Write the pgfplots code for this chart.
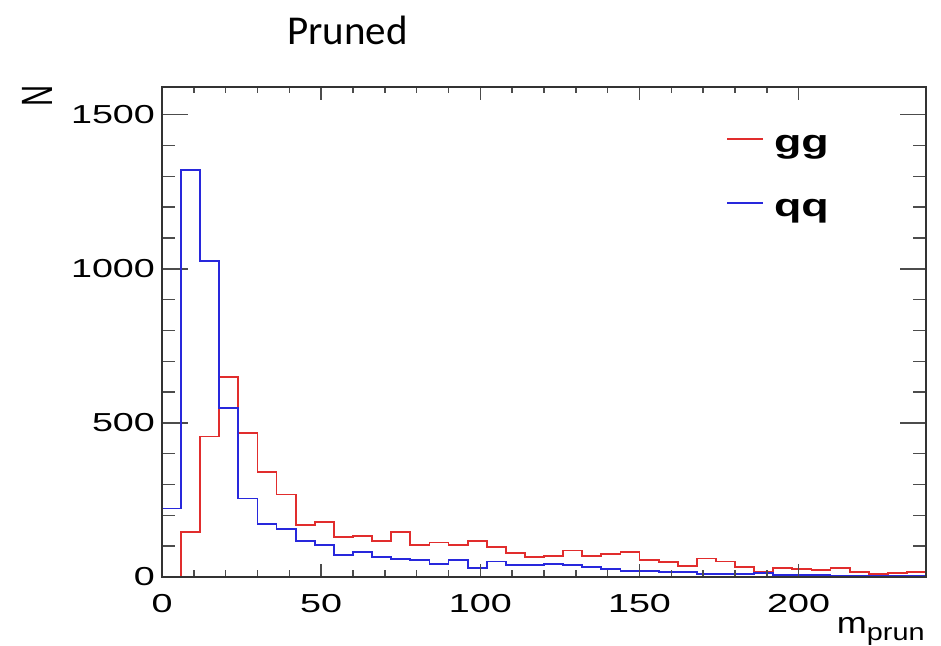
\documentclass[border=0pt]{standalone}
\usepackage{pgfplots}
\pgfplotsset{compat=1.18}
\usepackage{pgfplotstable}
\usepackage{fontspec}
\setmainfont{Liberation Sans}
\newfontfamily\carlito{Carlito}
\definecolor{hred}{RGB}{225,45,45}
\definecolor{hblue}{RGB}{40,40,220}

\pgfplotstableread{
x gg qq
0 0 222
6 145 1320
12 456 1026
18 648 548
24 467 255
30 341 171
36 268 155
42 168 117
48 178 104
54 130 71
60 134 82
66 117 64
72 145 58
78 104 55
84 112 42
90 104 54
96 117 28
102 98 50
108 77 39
114 66 39
120 69 43
126 86 40
132 67 32
138 75 27
144 80 20
150 55 20
156 48 15
162 36 15
168 60 11
174 50 11
180 33 11
186 18 14
192 30 7
198 25 7
204 23 7
210 29 4
216 16 2
222 11 2
228 12 4
234 16 2
240 16 2
}\hist

\begin{document}
\begin{tikzpicture}
\pgfplotsset{common/.style={
  scale only axis, width=382pt, height=245pt,
  xmin=0, xmax=240, ymin=0, ymax=1590,
  axis line style={line width=0.7pt, black!80},
  every tick/.style={line width=0.7pt, black!70},
  tick label style={font=\fontsize{13}{15}\selectfont},
  /pgf/number format/assume math mode=true,
  /pgf/number format/1000 sep={},
}}
\begin{axis}[common, name=main, clip=false,
  xtick=\empty, ytick={0,500,1000,1500}, minor y tick num=4,
  major tick length=13pt, minor tick length=6.5pt,
  yticklabel={\scalebox{1.45}[1]{\pgfmathprintnumber{\tick}}},
  legend style={draw=none, fill=none, inner sep=0pt,
    at={(axis description cs:0.738,0.91)}, anchor=north west,
    row sep=18pt, column sep=3pt,
    font=\fontsize{16}{19}\selectfont\bfseries},
  legend cell align=left,
  legend image code/.code={\draw[#1] (0pt,3.5pt) -- (18pt,3.5pt);},
]
\addplot[const plot, hred, line width=0.9pt] table[x=x,y=gg]{\hist};
\addlegendentry{\scalebox{1.4}[1]{gg}}
\addplot[const plot, hblue, line width=0.9pt] table[x=x,y=qq]{\hist};
\addlegendentry{\scalebox{1.4}[1]{qq}}
\node[font=\carlito\fontsize{20.5}{24}\selectfont] at (rel axis cs:0.243,1.116) {Pruned};
\node[rotate=90, font=\fontsize{14.6}{17}\selectfont] at (rel axis cs:-0.163,0.981) {\scalebox{1}[1.5]{N}};
\node[anchor=base east, inner sep=0pt, font=\fontsize{15}{18}\selectfont] at (rel axis cs:0.9987,-0.116) {\scalebox{1.2}[1]{m\raisebox{-3.5pt}{\fontsize{12}{14}\selectfont prun}}};
\end{axis}
\begin{axis}[common,
  ytick=\empty, xtick={0,50,100,150,200}, minor x tick num=4,
  major tick length=6.5pt, minor tick length=3.25pt,
  xticklabel={\scalebox{1.45}[1]{\pgfmathprintnumber{\tick}}},
  xticklabel style={yshift=-5pt},
]
\end{axis}
\path[use as bounding box] ([xshift=-81pt,yshift=-34.5pt]main.south west) rectangle ([xshift=7.5pt,yshift=43.5pt]main.north east);
\end{tikzpicture}
\end{document}
